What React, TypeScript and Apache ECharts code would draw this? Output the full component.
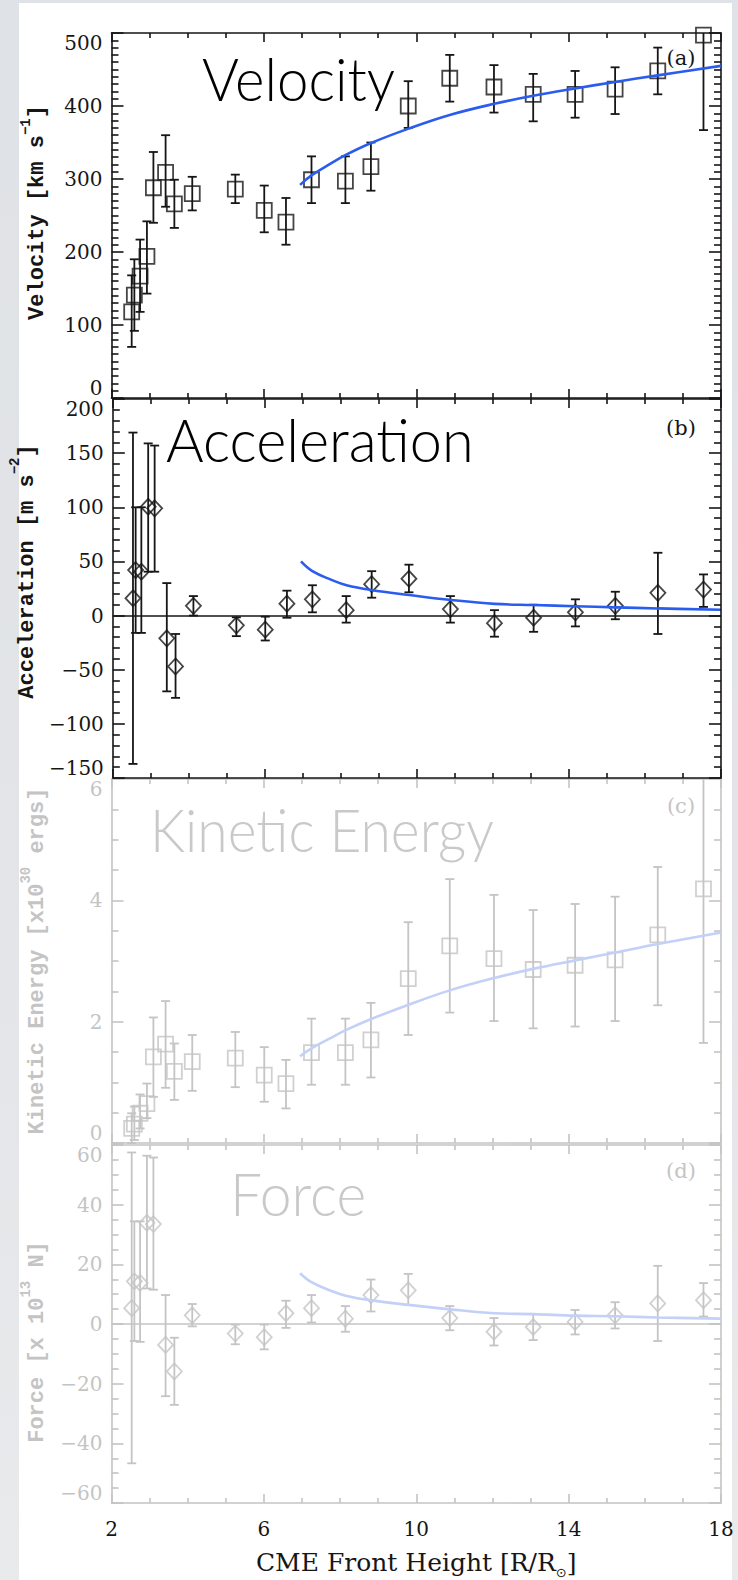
import React, { useEffect, useRef } from "react";
import * as echarts from "echarts";

// ---------- data ----------
const heights = [2.53, 2.6, 2.75, 2.93, 3.1, 3.42, 3.65, 4.12, 5.25, 6.01, 6.58, 7.25, 8.14, 8.81, 9.79, 10.88, 12.04, 13.07, 14.17, 15.22, 16.34, 17.54];

const velocity = [118, 141, 167, 194, 288, 309, 266, 280, 286, 257, 241, 299, 297, 317, 400, 438, 426, 416, 416, 423, 448, 497];
const velocityLow = [70, 92, 118, 143, 240, 262, 233, 257, 267, 227, 210, 267, 267, 284, 370, 406, 391, 379, 384, 389, 416, 367];
const velocityHigh = [168, 190, 217, 242, 337, 360, 299, 303, 306, 291, 274, 331, 331, 350, 434, 470, 456, 444, 448, 453, 480, 630];

const acceleration = [16, 42, 40.5, 100.5, 99, -21, -47, 9, -9, -13, 11, 15, 5, 29, 34, 6, -7, -2, 3, 9, 21, 24];
const accelerationLow = [-137, -16, -16, 40.5, 40.5, -70, -76, 0, -19, -23, -2, 3, -6.5, 16.5, 21.5, -6.5, -19.5, -15, -10, -3.4, -17, 8];
const accelerationHigh = [169, 100, 100, 159, 157, 30, -17, 18, -1.6, -1, 23, 28, 18, 41, 47, 18, 5, 10, 15, 22, 58, 38];

const kinetic = [0.24, 0.31, 0.49, 0.65, 1.42, 1.63, 1.18, 1.34, 1.4, 1.12, 0.98, 1.49, 1.49, 1.7, 2.71, 3.25, 3.04, 2.86, 2.93, 3.02, 3.43, 4.19];
const kineticLow = [0, 0.05, 0.24, 0.41, 0.76, 0.91, 0.71, 0.86, 0.92, 0.68, 0.57, 0.96, 0.96, 1.08, 1.78, 2.15, 2.01, 1.89, 1.92, 2.01, 2.27, 1.65];
const kineticHigh = [0.49, 0.6, 0.8, 0.98, 2.07, 2.34, 1.64, 1.78, 1.83, 1.58, 1.37, 2.05, 2.05, 2.31, 3.64, 4.35, 4.09, 3.84, 3.94, 4.06, 4.55, 6.6];

const force = [5.3, 14.3, 13.8, 33.9, 33.5, -7, -15.9, 2.9, -3.2, -4.4, 3.6, 5.3, 1.8, 9.7, 11.3, 2, -2.6, -1, 0.7, 2.9, 6.9, 8];
const forceLow = [-46.7, -5.7, -6, 11.9, 11.5, -24.2, -27.1, -0.8, -6.8, -8.5, -1.3, 0.5, -2.6, 4.2, 6.4, -2.1, -7.2, -5.4, -3.5, -1.5, -5.7, 2.5];
const forceHigh = [57.5, 34.4, 34.4, 56.4, 55.8, 9.7, -4.6, 6.7, -0.2, -0.2, 7.8, 9.7, 6, 14.9, 16.8, 6, 2, 3.4, 4.7, 7.3, 19.5, 13.7];

// fitted curves
const fitHeights = [6.95, 7.25, 7.75, 8.15, 8.8, 9.8, 10.9, 12.05, 13.07, 14.17, 15.22, 16.34, 18];
const velocityFit = [292, 305, 321, 333, 349, 369, 388, 403, 414, 424, 433, 442, 455];
const accelerationFit = [50, 41, 33, 28, 23.6, 19, 14.4, 10.8, 9.7, 8.6, 7.6, 6.6, 5.4];
const kineticFit = [1.43, 1.56, 1.73, 1.86, 2.04, 2.28, 2.52, 2.72, 2.87, 3.01, 3.14, 3.28, 3.47];
const forceFit = [17, 14, 11.2, 9.5, 8.0, 6.4, 4.9, 3.6, 3.3, 2.8, 2.6, 2.2, 1.8];

const xTicks = [2, 6, 10, 14, 18];

// ---------- styles ----------
const BLACK = "#161616";
const GRAY = "#c4c4c4";
const BLUE = "#2a5cf0";
const LIGHT_BLUE = "#c3d0f8";
const SERIF = "'DejaVu Serif', 'Liberation Serif', serif";
const MONO = "'Liberation Mono', 'DejaVu Sans Mono', monospace";
const TITLE_FONT = "Lato, 'Open Sans', sans-serif";

const GRID_LEFT = 111.5;
const GRID_WIDTH = 609.5;

type Panel = {
  top: number;
  height: number;
  min: number;
  max: number;
  interval: number;
  minorSplit: number;
  color: string;
  fitColor: string;
  symbol: string;
  values: number[];
  low: number[];
  high: number[];
  fit: number[];
  zeroLine: boolean;
  name: string;
  sup: string;
  tail: string;
  namePadding: number[];
};

const panels: Panel[] = [
  { top: 33, height: 365, min: 0, max: 500, interval: 100, minorSplit: 10, color: BLACK, fitColor: BLUE, symbol: "rect",
    values: velocity, low: velocityLow, high: velocityHigh, fit: velocityFit, zeroLine: false,
    name: "Velocity [km s", sup: "−1", tail: "]", namePadding: [0, 0, 0, 6] },
  { top: 399, height: 379, min: -150, max: 200, interval: 50, minorSplit: 5, color: BLACK, fitColor: BLUE, symbol: "diamond",
    values: acceleration, low: accelerationLow, high: accelerationHigh, fit: accelerationFit, zeroLine: true,
    name: "Acceleration [m s", sup: "−2", tail: "]", namePadding: [0, 0, 0, 34] },
  { top: 779, height: 364, min: 0, max: 6, interval: 2, minorSplit: 4, color: GRAY, fitColor: LIGHT_BLUE, symbol: "rect",
    values: kinetic, low: kineticLow, high: kineticHigh, fit: kineticFit, zeroLine: false,
    name: "Kinetic Energy [x10", sup: "30", tail: " ergs]", namePadding: [0, 0, 0, 0] },
  { top: 1145, height: 363, min: -60, max: 60, interval: 20, minorSplit: 4, color: GRAY, fitColor: LIGHT_BLUE, symbol: "diamond",
    values: force, low: forceLow, high: forceHigh, fit: forceFit, zeroLine: true,
    name: "Force [x 10", sup: "13", tail: " N]", namePadding: [0, 36, 0, 0] },
];

const titles = [
  { text: "Velocity", x: 202, y: 78, scaleX: 0.94, color: "#000" },
  { text: "Acceleration", x: 166, y: 439, scaleX: 0.96, color: "#000" },
  { text: "Kinetic Energy", x: 150, y: 829, scaleX: 0.92, color: "#c9c9c9" },
  { text: "Force", x: 230, y: 1192, scaleX: 0.95, color: "#c9c9c9" },
];
const panelTags = [
  { text: "(a)", y: 58, color: BLACK },
  { text: "(b)", y: 428, color: BLACK },
  { text: "(c)", y: 806, color: GRAY },
  { text: "(d)", y: 1171, color: GRAY },
];

const fmt = (v: number) => String(v).replace("-", "−");

function buildOption() {
  const grid: any[] = [];
  const xAxis: any[] = [];
  const yAxis: any[] = [];
  const series: any[] = [];

  panels.forEach((p, i) => {
    const isBottom = i === panels.length - 1;
    const lineStyle = { color: p.color, width: 1.6 };
    grid.push({ left: GRID_LEFT, width: GRID_WIDTH, top: p.top, height: p.height, containLabel: false });

    const xBase = {
      type: "value",
      gridIndex: i,
      min: xTicks[0],
      max: xTicks[xTicks.length - 1],
      interval: 4,
      axisLine: { show: true, onZero: false, lineStyle },
      axisTick: { show: true, inside: true, length: 9, lineStyle },
      minorTick: { show: true, splitNumber: 4, length: 5, lineStyle },
      splitLine: { show: false },
      minorSplitLine: { show: false },
      z: i === 1 ? 10 : 5,
    };
    xAxis.push({
      ...xBase,
      position: "bottom",
      axisLabel: {
        show: isBottom,
        margin: 16,
        fontFamily: SERIF,
        fontSize: 20,
        color: BLACK,
        formatter: fmt,
      },
      name: isBottom ? "CME Front Height [R/R{sub|⊙}]" : "",
      nameLocation: "middle",
      nameGap: 42,
      nameTextStyle: {
        fontFamily: SERIF,
        fontSize: 25,
        color: BLACK,
        rich: {
          sub: { fontFamily: "'DejaVu Sans', sans-serif", fontSize: 13, color: BLACK, verticalAlign: "bottom", lineHeight: 34 },
        },
      },
    });
    xAxis.push({ ...xBase, position: "top", axisLabel: { show: false } });

    const yBase = {
      type: "value",
      gridIndex: i,
      min: p.min,
      max: p.max,
      interval: p.interval,
      axisLine: { show: true, onZero: false, lineStyle },
      axisTick: { show: true, inside: true, length: 12, lineStyle },
      minorTick: { show: true, splitNumber: p.minorSplit, length: 7, lineStyle },
      splitLine: { show: false },
      minorSplitLine: { show: false },
      z: i === 1 ? 10 : 5,
    };
    yAxis.push({
      ...yBase,
      position: "left",
      axisLabel: {
        show: true,
        margin: 9,
        fontFamily: SERIF,
        fontSize: 20,
        lineHeight: 20,
        color: p.color,
        formatter: fmt,
        verticalAlignMinLabel: "bottom",
        verticalAlignMaxLabel: "top",
      },
      name: `{n|${p.name}}{sup|${p.sup}}{n|${p.tail}}`,
      nameLocation: "middle",
      nameRotate: 90,
      nameGap: 63,
      nameTextStyle: {
        padding: p.namePadding,
        rich: {
          n: { fontFamily: MONO, fontWeight: "bold", fontSize: 22, color: p.color, lineHeight: 30, verticalAlign: "bottom" },
          sup: { fontFamily: MONO, fontWeight: "bold", fontSize: 14, color: p.color, lineHeight: 30, verticalAlign: "top" },
        },
      },
    });
    yAxis.push({ ...yBase, position: "right", axisLabel: { show: false } });

    const xi = i * 2;
    const yi = i * 2;

    // error bars
    series.push({
      type: "custom",
      xAxisIndex: xi,
      yAxisIndex: yi,
      silent: true,
      z: 3,
      data: heights.map((h, k) => [h, p.low[k], p.high[k]]),
      renderItem: (_params: any, api: any) => {
        const x = api.value(0);
        const lo = api.value(1);
        const hi = api.value(2);
        const loC = Math.max(lo, p.min);
        const hiC = Math.min(hi, p.max);
        const a = api.coord([x, loC]);
        const b = api.coord([x, hiC]);
        const w = 4.5;
        const style = { stroke: p.color, lineWidth: 1.8 };
        const children: any[] = [
          { type: "line", shape: { x1: a[0], y1: a[1], x2: b[0], y2: b[1] }, style },
        ];
        if (lo >= p.min) children.push({ type: "line", shape: { x1: a[0] - w, y1: a[1], x2: a[0] + w, y2: a[1] }, style });
        if (hi <= p.max) children.push({ type: "line", shape: { x1: b[0] - w, y1: b[1], x2: b[0] + w, y2: b[1] }, style });
        return { type: "group", children };
      },
    });

    // markers
    series.push({
      type: "scatter",
      xAxisIndex: xi,
      yAxisIndex: yi,
      silent: true,
      z: 4,
      symbol: p.symbol,
      symbolSize: p.symbol === "rect" ? [15, 15] : [15, 16],
      itemStyle: { color: "rgba(255,255,255,0)", borderColor: p.color, borderWidth: 1.8 },
      data: heights.map((h, k) => [h, p.values[k]]),
    });

    // fit curve (+ zero line)
    const line: any = {
      type: "line",
      xAxisIndex: xi,
      yAxisIndex: yi,
      silent: true,
      z: 5,
      smooth: 0.4,
      symbol: "none",
      showSymbol: false,
      lineStyle: { color: p.fitColor, width: 2.6 },
      data: fitHeights.map((h, k) => [h, p.fit[k]]),
    };
    if (p.zeroLine) {
      line.markLine = {
        silent: true,
        symbol: ["none", "none"],
        label: { show: false },
        lineStyle: { color: p.color, width: 1.6, type: "solid" },
        data: [{ yAxis: 0 }],
      };
    }
    series.push(line);
  });

  const graphic: any[] = [];
  titles.forEach((t) => {
    graphic.push({
      type: "text",
      x: t.x,
      y: t.y,
      scaleX: t.scaleX,
      z: 20,
      silent: true,
      style: { text: t.text, fontFamily: TITLE_FONT, fontWeight: 300, fontSize: 60, fill: t.color, align: "left", verticalAlign: "middle" },
    });
  });
  panelTags.forEach((t) => {
    graphic.push({
      type: "text",
      x: 681,
      y: t.y,
      z: 20,
      silent: true,
      style: { text: t.text, fontFamily: SERIF, fontSize: 21, fill: t.color, align: "center", verticalAlign: "middle" },
    });
  });

  return { animation: false, grid, xAxis, yAxis, series, graphic };
}

export default function App() {
  const ref = useRef<HTMLDivElement>(null);
  useEffect(() => {
    if (!ref.current) return;
    const chart = echarts.init(ref.current, null, { renderer: "svg", width: 738, height: 1580 });
    chart.setOption(buildOption() as any);
    return () => chart.dispose();
  }, []);
  return (
    <div style={{ position: "absolute", left: 0, top: 0, width: 738, height: 1580, overflow: "hidden",
      background: "linear-gradient(180deg, #dfe2e6 0%, #e3e5e8 60%, #e8eaec 100%)" }}>
      <div style={{ position: "absolute", left: 19, top: 3, width: 713, height: 1577, background: "#ffffff" }} />
      <div ref={ref} style={{ position: "absolute", left: 0, top: 0, width: 738, height: 1580 }} />
    </div>
  );
}
